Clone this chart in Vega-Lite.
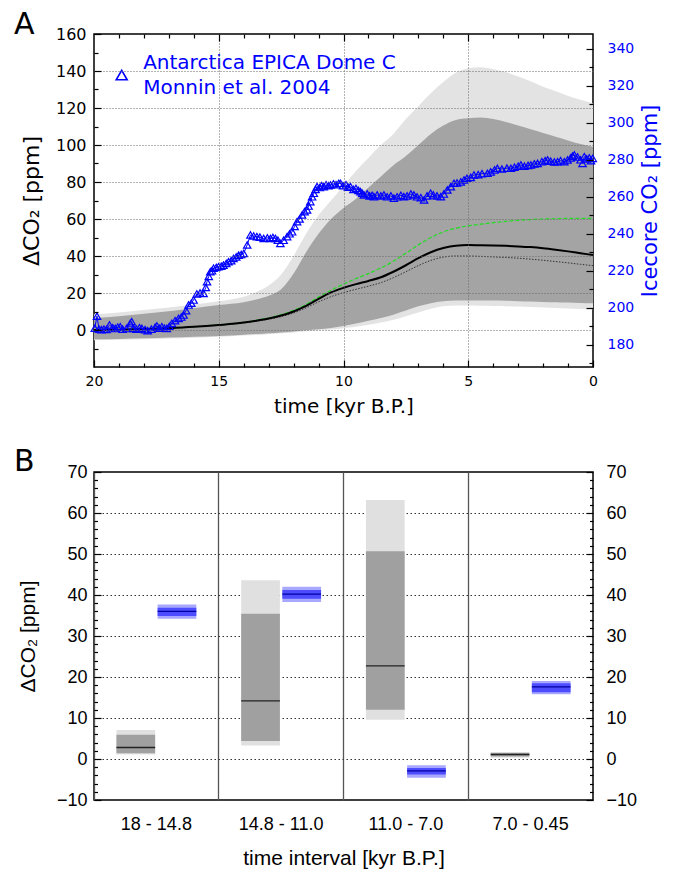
{
  "$schema": "https://vega.github.io/schema/vega-lite/v6.json",
  "padding": {"top": 9, "left": 13, "right": 5, "bottom": 5},
  "spacing": 29,
  "config": {
    "font": "DejaVu Sans",
    "view": {"stroke": "black", "strokeWidth": 1.5},
    "axis": {"domain": false, "titleFontWeight": "normal", "labelColor": "black", "titleColor": "black", "tickColor": "black", "tickWidth": 1.2},
    "title": {"fontWeight": "normal", "color": "black"}
  },
  "datasets": {
    "model": [
      {"t": 20, "llo": -5.5, "lhi": 8.5, "dlo": -5, "dhi": 6.5, "mean": 0, "dot": 0, "grn": 0},
      {"t": 19, "llo": -5.3, "lhi": 9.5, "dlo": -4.8, "dhi": 7.5, "mean": 0.2, "dot": 0.2, "grn": 0.2},
      {"t": 18, "llo": -5, "lhi": 10.8, "dlo": -4.5, "dhi": 8.8, "mean": 0.5, "dot": 0.5, "grn": 0.5},
      {"t": 17, "llo": -4.6, "lhi": 12.2, "dlo": -4.1, "dhi": 10.2, "mean": 1.0, "dot": 1.0, "grn": 1.0},
      {"t": 16, "llo": -4.2, "lhi": 13.8, "dlo": -3.7, "dhi": 11.8, "mean": 1.7, "dot": 1.7, "grn": 1.7},
      {"t": 15, "llo": -3.7, "lhi": 15.5, "dlo": -3.2, "dhi": 13.5, "mean": 2.7, "dot": 2.6, "grn": 2.8},
      {"t": 14, "llo": -3, "lhi": 18, "dlo": -2.5, "dhi": 15, "mean": 4.0, "dot": 3.8, "grn": 4.1},
      {"t": 13.5, "llo": -2.7, "lhi": 20.5, "dlo": -2.2, "dhi": 16.5, "mean": 5.0, "dot": 4.7, "grn": 5.2},
      {"t": 13, "llo": -2.3, "lhi": 24, "dlo": -1.8, "dhi": 18.5, "mean": 6.2, "dot": 5.8, "grn": 6.5},
      {"t": 12.5, "llo": -1.8, "lhi": 30, "dlo": -1.3, "dhi": 22, "mean": 7.8, "dot": 7.2, "grn": 8.3},
      {"t": 12, "llo": -1.3, "lhi": 40, "dlo": -0.8, "dhi": 30.5, "mean": 10.0, "dot": 9.2, "grn": 10.6},
      {"t": 11.5, "llo": -0.7, "lhi": 52, "dlo": -0.2, "dhi": 42, "mean": 13.0, "dot": 12.0, "grn": 13.8},
      {"t": 11, "llo": -0.2, "lhi": 62, "dlo": 0.4, "dhi": 52, "mean": 16.8, "dot": 15.2, "grn": 17.8},
      {"t": 10.5, "llo": 0.3, "lhi": 70, "dlo": 1.1, "dhi": 60, "mean": 20.3, "dot": 18.0, "grn": 21.5},
      {"t": 10, "llo": 1, "lhi": 78, "dlo": 2.2, "dhi": 66, "mean": 22.8, "dot": 20.2, "grn": 24.8},
      {"t": 9.5, "llo": 1.8, "lhi": 86, "dlo": 3.5, "dhi": 71, "mean": 24.8, "dot": 22.0, "grn": 27.8},
      {"t": 9, "llo": 2.8, "lhi": 93, "dlo": 5, "dhi": 77, "mean": 26.5, "dot": 23.7, "grn": 30.5},
      {"t": 8.5, "llo": 4, "lhi": 100, "dlo": 6.5, "dhi": 83, "mean": 28.5, "dot": 25.6, "grn": 33.5},
      {"t": 8, "llo": 5.5, "lhi": 106, "dlo": 8.3, "dhi": 89, "mean": 31.5, "dot": 28.3, "grn": 37.2},
      {"t": 7.5, "llo": 7.5, "lhi": 114, "dlo": 10.5, "dhi": 94, "mean": 35.0, "dot": 31.5, "grn": 41.5},
      {"t": 7, "llo": 9.5, "lhi": 121, "dlo": 12.8, "dhi": 100, "mean": 38.8, "dot": 34.8, "grn": 46.0},
      {"t": 6.5, "llo": 11.5, "lhi": 128, "dlo": 14.5, "dhi": 106, "mean": 42.0, "dot": 37.6, "grn": 50.0},
      {"t": 6, "llo": 12.8, "lhi": 134, "dlo": 15.6, "dhi": 110.5, "mean": 44.3, "dot": 39.4, "grn": 53.0},
      {"t": 5.5, "llo": 13.2, "lhi": 139, "dlo": 16, "dhi": 113.5, "mean": 45.6, "dot": 40.0, "grn": 55.0},
      {"t": 5, "llo": 13.2, "lhi": 141.5, "dlo": 16, "dhi": 114.5, "mean": 45.9, "dot": 40.0, "grn": 56.3},
      {"t": 4.5, "llo": 13.1, "lhi": 142, "dlo": 16, "dhi": 114.8, "mean": 45.8, "dot": 39.8, "grn": 57.2},
      {"t": 4, "llo": 13, "lhi": 141, "dlo": 15.9, "dhi": 114, "mean": 45.7, "dot": 39.5, "grn": 58.0},
      {"t": 3.5, "llo": 12.9, "lhi": 139.5, "dlo": 15.8, "dhi": 112.5, "mean": 45.5, "dot": 39.2, "grn": 58.7},
      {"t": 3, "llo": 12.7, "lhi": 137, "dlo": 15.6, "dhi": 110.5, "mean": 45.2, "dot": 38.8, "grn": 59.3},
      {"t": 2.5, "llo": 12.5, "lhi": 134.5, "dlo": 15.4, "dhi": 108.5, "mean": 44.8, "dot": 38.3, "grn": 59.7},
      {"t": 2, "llo": 12.2, "lhi": 131.5, "dlo": 15.2, "dhi": 106.5, "mean": 44.2, "dot": 37.7, "grn": 60.0},
      {"t": 1.5, "llo": 11.9, "lhi": 129, "dlo": 15, "dhi": 104.5, "mean": 43.4, "dot": 37.0, "grn": 60.2},
      {"t": 1, "llo": 11.6, "lhi": 126.5, "dlo": 14.8, "dhi": 102.5, "mean": 42.5, "dot": 36.3, "grn": 60.3},
      {"t": 0.5, "llo": 11.4, "lhi": 124.5, "dlo": 14.6, "dhi": 100.5, "mean": 41.5, "dot": 35.5, "grn": 60.3},
      {"t": 0, "llo": 11.2, "lhi": 122.5, "dlo": 14.4, "dhi": 99, "mean": 40.5, "dot": 34.8, "grn": 60.3}
    ],
    "ice": [
      {"t": 19.97, "co2": 189.0}, {"t": 19.88, "co2": 195.5}, {"t": 19.80, "co2": 188.5}, {"t": 19.70, "co2": 188.2},
      {"t": 19.60, "co2": 188.5}, {"t": 19.50, "co2": 188.3}, {"t": 19.38, "co2": 190.7}, {"t": 19.25, "co2": 189.2},
      {"t": 19.15, "co2": 188.8}, {"t": 19.05, "co2": 189.5}, {"t": 18.95, "co2": 189.8}, {"t": 18.85, "co2": 188.5},
      {"t": 18.70, "co2": 188.8}, {"t": 18.55, "co2": 191.5}, {"t": 18.49, "co2": 192.5}, {"t": 18.42, "co2": 188.9},
      {"t": 18.30, "co2": 188.5}, {"t": 18.18, "co2": 189.2}, {"t": 18.08, "co2": 188.9}, {"t": 17.95, "co2": 188.2},
      {"t": 17.85, "co2": 187.6}, {"t": 17.70, "co2": 188.5}, {"t": 17.55, "co2": 189.5}, {"t": 17.48, "co2": 190.2},
      {"t": 17.38, "co2": 189.0}, {"t": 17.28, "co2": 189.8}, {"t": 17.18, "co2": 189.0}, {"t": 17.08, "co2": 188.9},
      {"t": 16.98, "co2": 190.0}, {"t": 16.88, "co2": 191.6}, {"t": 16.75, "co2": 193.0}, {"t": 16.61, "co2": 194.3},
      {"t": 16.50, "co2": 195.0}, {"t": 16.41, "co2": 196.1}, {"t": 16.31, "co2": 198.5}, {"t": 16.21, "co2": 201.5},
      {"t": 16.10, "co2": 202.5}, {"t": 16.01, "co2": 204.2}, {"t": 15.88, "co2": 207.5}, {"t": 15.75, "co2": 208.0},
      {"t": 15.61, "co2": 207.8}, {"t": 15.52, "co2": 211.0}, {"t": 15.47, "co2": 214.1}, {"t": 15.40, "co2": 217.0},
      {"t": 15.34, "co2": 219.5}, {"t": 15.27, "co2": 220.0}, {"t": 15.21, "co2": 221.4}, {"t": 15.10, "co2": 221.8},
      {"t": 15.01, "co2": 222.2}, {"t": 14.90, "co2": 222.5}, {"t": 14.81, "co2": 223.1}, {"t": 14.70, "co2": 224.0},
      {"t": 14.61, "co2": 224.9}, {"t": 14.50, "co2": 225.5}, {"t": 14.41, "co2": 226.7}, {"t": 14.30, "co2": 227.5},
      {"t": 14.20, "co2": 228.5}, {"t": 14.10, "co2": 228.8}, {"t": 14.00, "co2": 229.4}, {"t": 13.86, "co2": 234.0},
      {"t": 13.73, "co2": 239.4}, {"t": 13.60, "co2": 238.8}, {"t": 13.47, "co2": 238.5}, {"t": 13.35, "co2": 238.2},
      {"t": 13.20, "co2": 237.5}, {"t": 13.05, "co2": 237.8}, {"t": 12.93, "co2": 237.5}, {"t": 12.83, "co2": 238.0},
      {"t": 12.73, "co2": 237.5}, {"t": 12.63, "co2": 236.5}, {"t": 12.53, "co2": 234.8}, {"t": 12.40, "co2": 236.5},
      {"t": 12.26, "co2": 238.5}, {"t": 12.16, "co2": 240.0}, {"t": 12.06, "co2": 241.1}, {"t": 11.96, "co2": 244.0},
      {"t": 11.86, "co2": 246.6}, {"t": 11.76, "co2": 248.0}, {"t": 11.66, "co2": 250.2}, {"t": 11.56, "co2": 252.0},
      {"t": 11.46, "co2": 252.9}, {"t": 11.40, "co2": 255.0}, {"t": 11.33, "co2": 257.4}, {"t": 11.26, "co2": 260.0},
      {"t": 11.19, "co2": 261.9}, {"t": 11.12, "co2": 264.0}, {"t": 11.06, "co2": 265.5}, {"t": 10.95, "co2": 265.0},
      {"t": 10.88, "co2": 266.0}, {"t": 10.79, "co2": 265.5}, {"t": 10.70, "co2": 266.5}, {"t": 10.60, "co2": 266.0},
      {"t": 10.52, "co2": 266.4}, {"t": 10.40, "co2": 267.0}, {"t": 10.30, "co2": 266.5}, {"t": 10.19, "co2": 267.3},
      {"t": 10.12, "co2": 267.3}, {"t": 10.02, "co2": 266.0}, {"t": 9.90, "co2": 266.5}, {"t": 9.82, "co2": 265.2},
      {"t": 9.72, "co2": 265.5}, {"t": 9.60, "co2": 264.0}, {"t": 9.50, "co2": 264.5}, {"t": 9.40, "co2": 263.5},
      {"t": 9.32, "co2": 262.8}, {"t": 9.25, "co2": 262.0}, {"t": 9.18, "co2": 261.0}, {"t": 9.05, "co2": 261.5},
      {"t": 8.95, "co2": 260.5}, {"t": 8.85, "co2": 260.8}, {"t": 8.78, "co2": 260.1}, {"t": 8.65, "co2": 261.0},
      {"t": 8.50, "co2": 260.5}, {"t": 8.38, "co2": 261.0}, {"t": 8.25, "co2": 260.0}, {"t": 8.10, "co2": 260.5},
      {"t": 7.98, "co2": 259.2}, {"t": 7.85, "co2": 260.0}, {"t": 7.70, "co2": 260.8}, {"t": 7.58, "co2": 260.1},
      {"t": 7.45, "co2": 260.5}, {"t": 7.30, "co2": 261.5}, {"t": 7.18, "co2": 261.0}, {"t": 7.05, "co2": 260.0},
      {"t": 6.90, "co2": 259.5}, {"t": 6.77, "co2": 258.3}, {"t": 6.65, "co2": 260.5}, {"t": 6.51, "co2": 261.9},
      {"t": 6.40, "co2": 261.0}, {"t": 6.25, "co2": 260.5}, {"t": 6.10, "co2": 260.1}, {"t": 5.98, "co2": 261.5},
      {"t": 5.84, "co2": 263.7}, {"t": 5.70, "co2": 265.5}, {"t": 5.57, "co2": 267.3}, {"t": 5.45, "co2": 267.5},
      {"t": 5.30, "co2": 268.0}, {"t": 5.17, "co2": 269.1}, {"t": 5.05, "co2": 270.0}, {"t": 4.90, "co2": 270.5},
      {"t": 4.77, "co2": 271.8}, {"t": 4.60, "co2": 272.0}, {"t": 4.45, "co2": 272.5}, {"t": 4.23, "co2": 272.7},
      {"t": 4.10, "co2": 273.5}, {"t": 3.95, "co2": 274.5}, {"t": 3.83, "co2": 275.4}, {"t": 3.65, "co2": 275.0},
      {"t": 3.45, "co2": 275.5}, {"t": 3.29, "co2": 275.4}, {"t": 3.15, "co2": 276.0}, {"t": 3.00, "co2": 276.5},
      {"t": 2.89, "co2": 277.2}, {"t": 2.75, "co2": 276.5}, {"t": 2.60, "co2": 277.0}, {"t": 2.49, "co2": 277.2},
      {"t": 2.35, "co2": 277.8}, {"t": 2.22, "co2": 278.1}, {"t": 2.05, "co2": 279.0}, {"t": 1.92, "co2": 279.5},
      {"t": 1.82, "co2": 279.9}, {"t": 1.70, "co2": 279.2}, {"t": 1.55, "co2": 278.8}, {"t": 1.42, "co2": 279.0},
      {"t": 1.30, "co2": 279.5}, {"t": 1.15, "co2": 279.0}, {"t": 1.02, "co2": 279.9}, {"t": 0.90, "co2": 281.0},
      {"t": 0.82, "co2": 282.0}, {"t": 0.75, "co2": 282.6}, {"t": 0.62, "co2": 281.5}, {"t": 0.50, "co2": 280.0},
      {"t": 0.42, "co2": 278.0}, {"t": 0.35, "co2": 281.7}, {"t": 0.25, "co2": 280.5}, {"t": 0.15, "co2": 281.0},
      {"t": 0.08, "co2": 279.5}, {"t": 0.01, "co2": 280.8}
    ],
    "legendSym": [{"t": 18.89, "co2": 325.8}],
    "legendText": [
      {"t": 18.03, "co2": 332.3, "label": "Antarctica EPICA Dome C"},
      {"t": 18.03, "co2": 318.8, "label": "Monnin et al. 2004"}
    ],
    "iv": [
      {"interval": "18 - 14.8", "source": "model", "lo95": 1.1, "hi95": 7.1, "lo68": 1.4, "hi68": 5.9, "mid": 2.8},
      {"interval": "18 - 14.8", "source": "icecore", "lo95": 34.2, "hi95": 37.7, "lo68": 34.9, "hi68": 36.9, "mid": 36.0},
      {"interval": "14.8 - 11.0", "source": "model", "lo95": 3.3, "hi95": 43.6, "lo68": 4.4, "hi68": 35.4, "mid": 14.2},
      {"interval": "14.8 - 11.0", "source": "icecore", "lo95": 38.3, "hi95": 42.0, "lo68": 39.1, "hi68": 41.2, "mid": 40.2},
      {"interval": "11.0 - 7.0", "source": "model", "lo95": 9.6, "hi95": 63.2, "lo68": 12.0, "hi68": 50.7, "mid": 22.7},
      {"interval": "11.0 - 7.0", "source": "icecore", "lo95": -4.6, "hi95": -1.5, "lo68": -3.8, "hi68": -2.2, "mid": -2.9},
      {"interval": "7.0 - 0.45", "source": "model", "lo95": 0.3, "hi95": 1.6, "lo68": 0.6, "hi68": 1.5, "mid": 1.1},
      {"interval": "7.0 - 0.45", "source": "icecore", "lo95": 15.8, "hi95": 19.0, "lo68": 16.3, "hi68": 18.5, "mid": 17.6}
    ]
  },
  "vconcat": [
    {
      "title": {"text": "A", "anchor": "start", "frame": "group", "fontSize": 30, "dx": -80, "offset": -14},
      "width": 499,
      "height": 333,
      "layer": [
        {
          "data": {"name": "model"},
          "layer": [
            {
              "mark": {"type": "area", "interpolate": "monotone", "color": "#e3e3e3"},
              "encoding": {
                "x": {"field": "t", "type": "quantitative", "scale": {"domain": [0, 20], "reverse": true, "nice": false},
                  "axis": {"orient": "bottom", "values": [0, 5, 10, 15, 20], "tickSize": -7,
                    "labelPadding": 14, "labelFontSize": 14, "labelFlush": false,
                    "grid": true, "gridDash": [1, 2], "gridColor": "#666",
                    "gridOpacity": {"condition": {"test": "datum.value > 0 && datum.value < 20", "value": 1}, "value": 0},
                    "title": "time [kyr B.P.]", "titleFontSize": 20, "titlePadding": 8, "zindex": 1}},
                "y": {"field": "llo", "type": "quantitative", "scale": {"domain": [-20, 160], "nice": false},
                  "axis": {"orient": "left", "values": [0, 20, 40, 60, 80, 100, 120, 140, 160], "tickSize": -7,
                    "labelPadding": 15, "labelFontSize": 16, "labelFlush": false,
                    "grid": true, "gridDash": [1, 2], "gridColor": "#666",
                    "gridOpacity": {"condition": {"test": "datum.value > -20 && datum.value < 160", "value": 1}, "value": 0},
                    "title": "ΔCO₂  [ppm]", "titleFontSize": 22, "titlePadding": 12, "zindex": 1}},
                "y2": {"field": "lhi"}
              }
            },
            {
              "mark": {"type": "area", "interpolate": "monotone", "color": "#a4a4a4"},
              "encoding": {
                "x": {"field": "t", "type": "quantitative", "scale": {"domain": [0, 20], "reverse": true, "nice": false},
                  "axis": {"orient": "top", "values": [5, 10, 15], "labels": false, "grid": false, "title": null, "tickSize": -7, "zindex": 1}},
                "y": {"field": "dlo", "type": "quantitative", "scale": {"domain": [-20, 160], "nice": false},
                  "axis": {"orient": "left", "values": [-10, 10, 30, 50, 70, 90, 110, 130, 150], "labels": false, "grid": false, "title": null, "tickSize": -4, "zindex": 1}},
                "y2": {"field": "dhi"}
              }
            },
            {
              "mark": {"type": "line", "interpolate": "monotone", "color": "#22dd22", "strokeWidth": 1.2, "strokeDash": [4, 2]},
              "encoding": {
                "x": {"field": "t", "type": "quantitative", "scale": {"domain": [0, 20], "reverse": true, "nice": false},
                  "axis": {"orient": "bottom", "values": [1,2,3,4,6,7,8,9,11,12,13,14,16,17,18,19], "labels": false, "grid": false, "title": null, "tickSize": -4, "zindex": 1}},
                "y": {"field": "grn", "type": "quantitative", "scale": {"domain": [-20, 160], "nice": false}, "axis": null}
              }
            },
            {
              "mark": {"type": "line", "interpolate": "monotone", "color": "#333333", "strokeWidth": 1, "strokeDash": [1.5, 1.5]},
              "encoding": {
                "x": {"field": "t", "type": "quantitative", "scale": {"domain": [0, 20], "reverse": true, "nice": false},
                  "axis": {"orient": "top", "values": [1,2,3,4,6,7,8,9,11,12,13,14,16,17,18,19], "labels": false, "grid": false, "title": null, "tickSize": -4, "zindex": 1}},
                "y": {"field": "dot", "type": "quantitative", "scale": {"domain": [-20, 160], "nice": false}, "axis": null}
              }
            },
            {
              "mark": {"type": "line", "interpolate": "monotone", "color": "black", "strokeWidth": 2},
              "encoding": {
                "x": {"field": "t", "type": "quantitative", "scale": {"domain": [0, 20], "reverse": true, "nice": false}, "axis": null},
                "y": {"field": "mean", "type": "quantitative", "scale": {"domain": [-20, 160], "nice": false}, "axis": null}
              }
            }
          ],
          "resolve": {"axis": {"x": "independent", "y": "independent"}}
        },
        {
          "layer": [
            {
              "data": {"name": "ice"},
              "mark": {"type": "line", "color": "#0000ff", "strokeWidth": 1},
              "encoding": {
                "x": {"field": "t", "type": "quantitative", "scale": {"domain": [0, 20], "reverse": true, "nice": false}, "axis": null},
                "y": {"field": "co2", "type": "quantitative", "scale": {"domain": [168, 348], "nice": false, "zero": false},
                  "axis": {"orient": "right", "values": [180, 200, 220, 240, 260, 280, 300, 320, 340], "tickSize": -7,
                    "labelPadding": 21, "labelFontSize": 14, "labelColor": "#0000ff", "labelFlush": false, "grid": false,
                    "title": "Icecore CO₂ [ppm]", "titleColor": "#0000ff", "titleFontSize": 21, "titleAngle": 270, "titleBaseline": "top", "titlePadding": 6, "zindex": 1}}
              }
            },
            {
              "data": {"name": "ice"},
              "mark": {"type": "point", "shape": "triangle-up", "filled": false, "color": "#0000ff", "size": 55, "strokeWidth": 1.2, "opacity": 1},
              "encoding": {
                "x": {"field": "t", "type": "quantitative", "scale": {"domain": [0, 20], "reverse": true, "nice": false}, "axis": null},
                "y": {"field": "co2", "type": "quantitative", "scale": {"domain": [168, 348], "nice": false, "zero": false},
                  "axis": {"orient": "right", "values": [170, 190, 210, 230, 250, 270, 290, 310, 330], "labels": false, "grid": false, "title": null, "tickSize": -4, "zindex": 1}}
              }
            },
            {
              "data": {"name": "legendSym"},
              "mark": {"type": "point", "shape": "triangle-up", "filled": false, "color": "#0000ff", "size": 120, "strokeWidth": 1.6, "opacity": 1},
              "encoding": {
                "x": {"field": "t", "type": "quantitative", "scale": {"domain": [0, 20], "reverse": true, "nice": false}, "axis": null},
                "y": {"field": "co2", "type": "quantitative", "scale": {"domain": [168, 348], "nice": false, "zero": false}, "axis": null}
              }
            },
            {
              "data": {"name": "legendText"},
              "mark": {"type": "text", "align": "left", "baseline": "middle", "fontSize": 20, "color": "#0000ff", "font": "DejaVu Sans"},
              "encoding": {
                "x": {"field": "t", "type": "quantitative", "scale": {"domain": [0, 20], "reverse": true, "nice": false}, "axis": null},
                "y": {"field": "co2", "type": "quantitative", "scale": {"domain": [168, 348], "nice": false, "zero": false}, "axis": null},
                "text": {"field": "label"}
              }
            }
          ],
          "resolve": {"axis": {"x": "independent", "y": "independent"}}
        }
      ],
      "resolve": {"scale": {"y": "independent"}, "axis": {"x": "independent", "y": "independent"}}
    },
    {
      "title": {"text": "B", "anchor": "start", "frame": "group", "fontSize": 30, "dx": -80, "offset": -14},
      "width": 499,
      "height": 328,
      "data": {"name": "iv"},
      "layer": [
        {
          "mark": {"type": "bar"},
          "encoding": {
            "x": {"field": "interval", "type": "nominal", "sort": null,
              "scale": {"type": "band", "domain": ["18 - 14.8", "14.8 - 11.0", "11.0 - 7.0", "7.0 - 0.45"], "paddingInner": 0, "paddingOuter": 0},
              "axis": {"orient": "bottom", "ticks": false, "grid": false, "labelAngle": 0, "labelFont": "Liberation Sans", "labelFontSize": 18, "labelPadding": 15,
                "title": "time interval [kyr B.P.]", "titleFont": "Liberation Sans", "titleFontSize": 21, "titlePadding": 14}},
            "xOffset": {"field": "source", "type": "nominal", "scale": {"domain": ["model", "icecore"], "paddingInner": 0.06, "paddingOuter": 0.545}},
            "y": {"field": "lo95", "type": "quantitative", "scale": {"domain": [-10, 70], "nice": false},
              "axis": {"orient": "left", "values": [-10, 0, 10, 20, 30, 40, 50, 60, 70], "tickSize": -7,
                "labelPadding": 14, "labelFont": "Liberation Sans", "labelFontSize": 18, "labelFlush": false,
                "grid": true, "gridDash": [1.5, 2.5], "gridColor": "#333",
                "gridOpacity": {"condition": {"test": "datum.value > -10 && datum.value < 70", "value": 1}, "value": 0},
                "title": "ΔCO₂ [ppm]", "titleFont": "Liberation Sans", "titleFontSize": 21, "titlePadding": 18}},
            "y2": {"field": "hi95"},
            "fill": {"condition": {"test": "datum.source === 'model'", "value": "#e0e0e0"}, "value": "#a8a8ff"}
          }
        },
        {
          "mark": {"type": "bar"},
          "encoding": {
            "x": {"field": "interval", "type": "nominal", "sort": null,
              "scale": {"type": "band", "domain": ["18 - 14.8", "14.8 - 11.0", "11.0 - 7.0", "7.0 - 0.45"], "paddingInner": 0, "paddingOuter": 0},
              "axis": {"orient": "top", "bandPosition": 0, "ticks": false, "labels": false, "title": null, "grid": true, "gridColor": "#555", "gridWidth": 1.3, "gridDash": []}},
            "xOffset": {"field": "source", "type": "nominal", "scale": {"domain": ["model", "icecore"], "paddingInner": 0.06, "paddingOuter": 0.545}},
            "y": {"field": "lo68", "type": "quantitative", "scale": {"domain": [-10, 70], "nice": false},
              "axis": {"orient": "right", "values": [-10, 0, 10, 20, 30, 40, 50, 60, 70], "tickSize": -7,
                "labelPadding": 20, "labelFont": "Liberation Sans", "labelFontSize": 18, "labelFlush": false, "grid": false, "title": null}},
            "y2": {"field": "hi68"},
            "fill": {"condition": {"test": "datum.source === 'model'", "value": "#a0a0a0"}, "value": "#4d4dff"}
          }
        },
        {
          "transform": [{"filter": "datum.source === 'model'"}],
          "mark": {"type": "bar", "fillOpacity": 0, "strokeWidth": 1.3, "stroke": "#222222"},
          "encoding": {
            "x": {"field": "interval", "type": "nominal", "sort": null,
              "scale": {"type": "band", "domain": ["18 - 14.8", "14.8 - 11.0", "11.0 - 7.0", "7.0 - 0.45"], "paddingInner": 0, "paddingOuter": 0}, "axis": null},
            "xOffset": {"field": "source", "type": "nominal", "scale": {"domain": ["model", "icecore"], "paddingInner": 0.06, "paddingOuter": 0.545}},
            "y": {"field": "mid", "type": "quantitative", "scale": {"domain": [-10, 70], "nice": false},
              "axis": {"orient": "left", "values": [-8,-6,-4,-2,2,4,6,8,12,14,16,18,22,24,26,28,32,34,36,38,42,44,46,48,52,54,56,58,62,64,66,68], "labels": false, "grid": false, "title": null, "tickSize": -3.5}},
            "y2": {"field": "mid"}
          }
        },
        {
          "transform": [{"filter": "datum.source === 'icecore'"}],
          "mark": {"type": "bar", "fillOpacity": 0, "strokeWidth": 1.3, "stroke": "#0000a0"},
          "encoding": {
            "x": {"field": "interval", "type": "nominal", "sort": null,
              "scale": {"type": "band", "domain": ["18 - 14.8", "14.8 - 11.0", "11.0 - 7.0", "7.0 - 0.45"], "paddingInner": 0, "paddingOuter": 0}, "axis": null},
            "xOffset": {"field": "source", "type": "nominal", "scale": {"domain": ["model", "icecore"], "paddingInner": 0.06, "paddingOuter": 0.545}},
            "y": {"field": "mid", "type": "quantitative", "scale": {"domain": [-10, 70], "nice": false},
              "axis": {"orient": "right", "values": [-8,-6,-4,-2,2,4,6,8,12,14,16,18,22,24,26,28,32,34,36,38,42,44,46,48,52,54,56,58,62,64,66,68], "labels": false, "grid": false, "title": null, "tickSize": -3.5}},
            "y2": {"field": "mid"}
          }
        }
      ],
      "resolve": {"axis": {"x": "independent", "y": "independent"}}
    }
  ]
}
